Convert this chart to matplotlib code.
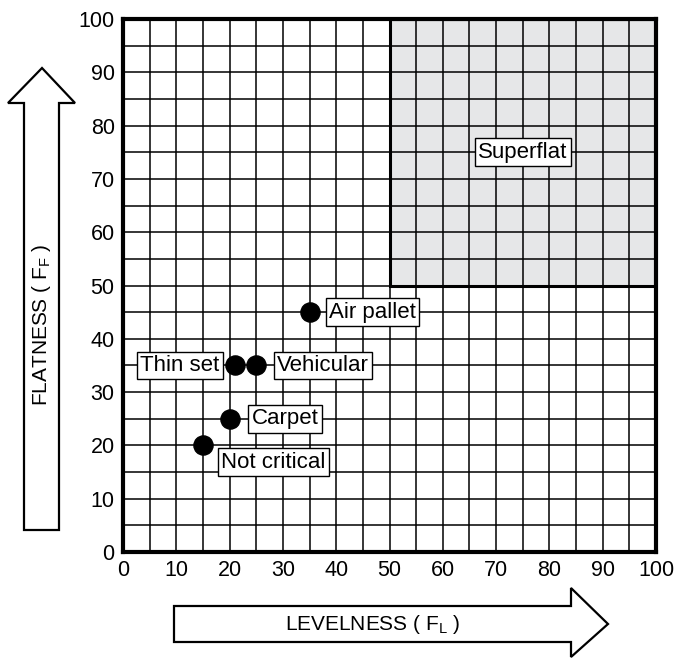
import numpy as np
import matplotlib.pyplot as plt
from matplotlib.patches import Polygon, Rectangle

plt.rcParams['font.family'] = ['Liberation Sans', 'DejaVu Sans']

# data
names = ['Not critical', 'Carpet', 'Thin set', 'Vehicular', 'Air pallet']
levelness = [15, 20, 21, 25, 35]
flatness = [20, 25, 35, 35, 45]
# label offsets (points) and alignment
offsets = [(13, -12), (16, 0), (-11, 0), (15, 0), (14, 0)]
aligns = ['left', 'left', 'right', 'left', 'left']
superflat_x = [50, 100]
superflat_y = [50, 100]
ticks = list(range(0, 101, 10))

W, H = 674, 658
fig = plt.figure(figsize=(W / 100, H / 100), dpi=100)
ax = fig.add_axes([123 / W, 1 - 552 / H, 533 / W, 533 / H])
ax.set_xlim(0, 100)
ax.set_ylim(0, 100)

# grey superflat zone
ax.add_patch(Rectangle((superflat_x[0], superflat_y[0]),
                       superflat_x[1] - superflat_x[0], superflat_y[1] - superflat_y[0],
                       facecolor='#e6e7e8', edgecolor='none', zorder=0))

# grid every 5
for v in np.arange(0, 101, 5):
    ax.axvline(v, color='black', lw=1.1, zorder=1)
    ax.axhline(v, color='black', lw=1.1, zorder=1)

ax.add_patch(Rectangle((superflat_x[0], superflat_y[0]),
                       superflat_x[1] - superflat_x[0], superflat_y[1] - superflat_y[0],
                       facecolor='none', edgecolor='black', lw=2.2, zorder=2))

for s in ax.spines.values():
    s.set_linewidth(3)
ax.set_xticks(ticks)
ax.set_yticks(ticks)
ax.tick_params(length=0, labelsize=15.5, pad=6)

ax.scatter(levelness, flatness, s=190, color='black', zorder=4, clip_on=False)
for n, x, y, off, ha in zip(names, levelness, flatness, offsets, aligns):
    ax.annotate(n, (x, y), xytext=off, textcoords='offset points', ha=ha, va='center',
                fontsize=16, zorder=5,
                bbox=dict(boxstyle='square,pad=0.15', fc='white', ec='black', lw=1))

ax.text(75, 75, 'Superflat', ha='center', va='center', fontsize=16, zorder=5,
        bbox=dict(boxstyle='square,pad=0.15', fc='white', ec='black', lw=1))


def px(pts):
    return [(x / W, 1 - y / H) for x, y in pts]


# horizontal arrow
harrow = px([(174, 606), (571, 606), (571, 588), (608, 624), (571, 657),
             (571, 642), (174, 642)])
fig.patches.append(Polygon(harrow, closed=True, fc='white', ec='black', lw=1.6,
                           transform=fig.transFigure, figure=fig))
fig.text(373 / W, 1 - 625 / H, r'LEVELNESS ( F$_{\mathregular{L}}$ )', ha='center',
         va='center', fontsize=15)

# vertical arrow
varrow = px([(24, 530), (24, 103), (8, 103), (42, 68), (75, 103), (59, 103), (59, 530)])
fig.patches.append(Polygon(varrow, closed=True, fc='white', ec='black', lw=1.6,
                           transform=fig.transFigure, figure=fig))
fig.text(42 / W, 1 - 325 / H, r'FLATNESS ( F$_{\mathregular{F}}$ )', ha='center',
         va='center', rotation=90, fontsize=15)

fig.savefig('out.png', dpi=100)
